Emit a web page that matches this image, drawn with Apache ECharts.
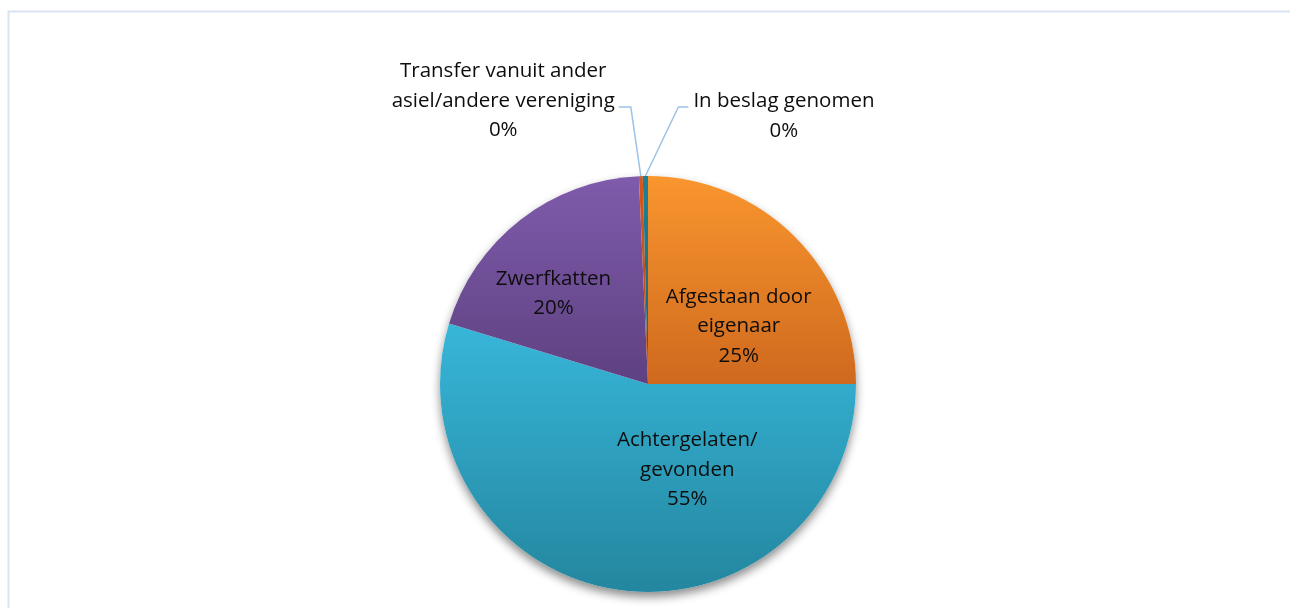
<!DOCTYPE html>
<html>
<head>
<meta charset="utf-8">
<script src="https://cdn.jsdelivr.net/npm/echarts@6/dist/echarts.min.js"></script>
<style>
  html, body { margin: 0; padding: 0; background: #fff; }
  #chart { width: 1290px; height: 608px; }
</style>
</head>
<body>
<div id="chart"></div>
<script>
// Herkomst van de katten (aandeel per categorie, %)
const categories = [
  'Afgestaan door eigenaar',
  'Achtergelaten/ gevonden',
  'Zwerfkatten',
  'Transfer vanuit ander asiel/andere vereniging',
  'In beslag genomen'
]
const labelTexts = [
  'Afgestaan door\neigenaar',
  'Achtergelaten/\ngevonden',
  'Zwerfkatten',
  'Transfer vanuit ander\nasiel/andere vereniging',
  'In beslag genomen'
]
const values = [25.0, 54.7, 19.6, 0.3, 0.4]

// top / bottom colour of each slice gradient
const sliceColors = [
  ['#F9962E', '#CF691E'],
  ['#37B6D9', '#24869F'],
  ['#7F5BAB', '#5E4181'],
  ['#D5581B', '#B54912'],
  ['#1F8196', '#166576']
]

const total = values.reduce((a, b) => a + b, 0)

const chart = echarts.init(document.getElementById('chart'))

const grad = (c) => new echarts.graphic.LinearGradient(0, 0, 0, 1, [
  { offset: 0, color: c[0] },
  { offset: 1, color: c[1] }
])

const pieData = categories.map((name, i) => ({
  name,
  value: values[i],
  itemStyle: { color: grad(sliceColors[i]) },
  label: { position: values[i] < 1 ? 'outside' : 'inside' },
  labelLine: { show: values[i] < 1 }
}))

// label nudges relative to the library's default placement
const insideNudge = { 0: [15, 18], 1: [55, -20], 2: [-29, -6] }

const option = {
  animation: false,
  graphic: [{
    type: 'rect',
    left: 6,
    top: 9,
    shape: { width: 1400, height: 700 },
    style: { fill: 'none', stroke: '#DAE4F2', lineWidth: 2 },
    silent: true
  }],
  series: [
    {
      // shadow under the pie
      type: 'pie',
      silent: true,
      center: [648, 384],
      radius: 208,
      z: 1,
      label: { show: false },
      labelLine: { show: false },
      itemStyle: {
        color: '#ffffff',
        shadowBlur: 10,
        shadowOffsetY: 5,
        shadowColor: 'rgba(0,0,0,0.45)'
      },
      data: [{ value: total, name: 'schaduw' }]
    },
    {
      type: 'pie',
      z: 2,
      center: [648, 384],
      radius: 208,
      startAngle: 90,
      clockwise: true,
      avoidLabelOverlap: false,
      label: {
        show: true,
        fontFamily: 'Open Sans',
        fontSize: 20.5,
        lineHeight: 29.5,
        color: '#0D0D0D',
        align: 'center',
        formatter: (p) => labelTexts[p.dataIndex] + '\n' + Math.round(p.value / total * 100) + '%'
      },
      labelLine: {
        lineStyle: { color: '#9DC3E6', width: 1.5 }
      },
      labelLayout: (p) => {
        const r = p.labelRect
        if (insideNudge[p.dataIndex]) {
          const n = insideNudge[p.dataIndex]
          return {
            x: r.x + r.width / 2 + n[0],
            y: r.y + r.height / 2 + n[1],
            align: 'center',
            verticalAlign: 'middle'
          }
        }
        const p0 = p.labelLinePoints[0]
        if (p.dataIndex === 3) {
          const p1 = [p0[0] - 10, p0[1] - 69]
          const p2 = [p1[0] - 12, p1[1]]
          return {
            x: p2[0] - 4 - r.width / 2,
            y: p2[1] - 6,
            align: 'center',
            verticalAlign: 'middle',
            labelLinePoints: [p0, p1, p2]
          }
        }
        const p1 = [p0[0] + 33, p0[1] - 69]
        const p2 = [p1[0] + 10, p1[1]]
        return {
          x: p2[0] + 5 + r.width / 2,
          y: p2[1] + 9,
          align: 'center',
          verticalAlign: 'middle',
          labelLinePoints: [p0, p1, p2]
        }
      },
      data: pieData
    }
  ]
}

chart.setOption(option)
window.addEventListener('resize', () => chart.resize())
</script>
</body>
</html>
